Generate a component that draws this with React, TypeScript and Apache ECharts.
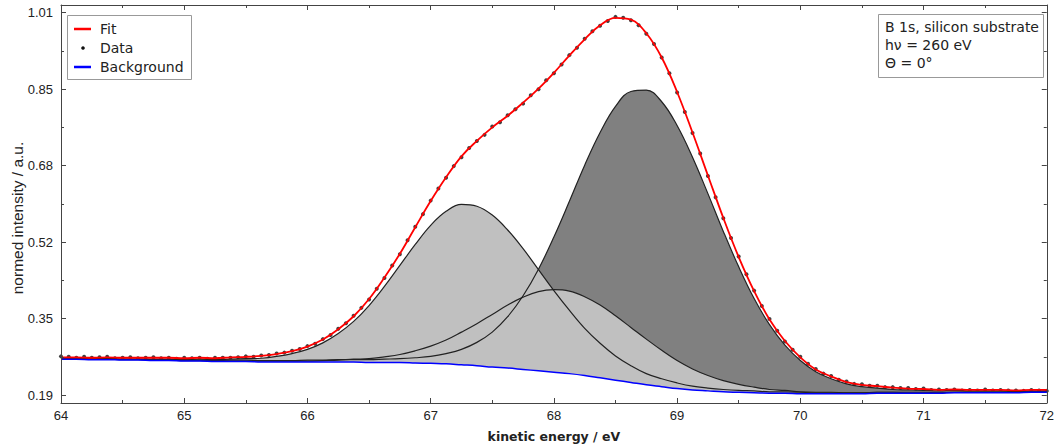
import React, { useEffect, useRef } from 'react';
import * as echarts from 'echarts';

// energy grid of the fitted curves: 64 .. 72 eV, step 0.125 eV
const CURVE_START = 64;
const CURVE_STEP = 0.125;
// energy grid of the measured points: 64 .. 72 eV, step 0.0625 eV
const DATA_START = 64;
const DATA_STEP = 0.0625;

const background = [
  0.267, 0.267, 0.266, 0.266, 0.265, 0.265, 0.264, 0.264, 0.263, 0.263,
  0.262, 0.262, 0.262, 0.261, 0.261, 0.261, 0.261, 0.261, 0.261, 0.261,
  0.260, 0.260, 0.260, 0.259, 0.258, 0.257, 0.255, 0.253, 0.250, 0.248,
  0.245, 0.242, 0.239, 0.236, 0.232, 0.227, 0.222, 0.217, 0.212, 0.208,
  0.204, 0.201, 0.199, 0.197, 0.196, 0.195, 0.194, 0.194, 0.193, 0.193,
  0.193, 0.193, 0.193, 0.194, 0.194, 0.194, 0.194, 0.194, 0.195, 0.195,
  0.195, 0.195, 0.195, 0.196, 0.196,
];

const compBO = [
  0.002, 0.002, 0.002, 0.002, 0.002, 0.002, 0.003, 0.003, 0.003, 0.004,
  0.004, 0.005, 0.006, 0.008, 0.012, 0.018, 0.027, 0.041, 0.061, 0.087,
  0.122, 0.163, 0.208, 0.254, 0.296, 0.327, 0.344, 0.342, 0.326, 0.296,
  0.259, 0.217, 0.175, 0.136, 0.101, 0.074, 0.052, 0.036, 0.024, 0.017,
  0.012, 0.008, 0.006, 0.005, 0.004, 0.004, 0.003, 0.003, 0.003, 0.002,
  0.002, 0.002, 0.002, 0.002, 0.002, 0.002, 0.002, 0.001, 0.001, 0.001,
  0.001, 0.001, 0.001, 0.001, 0.001,
];

const compBC = [
  0.001, 0.001, 0.001, 0.001, 0.001, 0.001, 0.001, 0.001, 0.001, 0.001,
  0.001, 0.001, 0.001, 0.002, 0.002, 0.002, 0.002, 0.003, 0.004, 0.006,
  0.008, 0.012, 0.017, 0.026, 0.037, 0.051, 0.070, 0.090, 0.113, 0.135,
  0.155, 0.170, 0.177, 0.177, 0.169, 0.156, 0.138, 0.118, 0.098, 0.078,
  0.060, 0.045, 0.033, 0.024, 0.017, 0.012, 0.008, 0.006, 0.004, 0.003,
  0.003, 0.002, 0.002, 0.002, 0.002, 0.001, 0.001, 0.001, 0.001, 0.001,
  0.001, 0.001, 0.001, 0.001, 0.001,
];

const compBB = [
  0.001, 0.001, 0.001, 0.002, 0.002, 0.002, 0.002, 0.002, 0.002, 0.002,
  0.002, 0.003, 0.003, 0.003, 0.003, 0.003, 0.004, 0.004, 0.005, 0.005,
  0.006, 0.007, 0.008, 0.011, 0.015, 0.022, 0.033, 0.050, 0.075, 0.110,
  0.158, 0.218, 0.290, 0.369, 0.451, 0.526, 0.587, 0.624, 0.632, 0.611,
  0.564, 0.499, 0.423, 0.344, 0.269, 0.202, 0.147, 0.103, 0.071, 0.047,
  0.032, 0.021, 0.015, 0.011, 0.008, 0.007, 0.006, 0.005, 0.005, 0.004,
  0.004, 0.004, 0.003, 0.003, 0.003,
];

const measured = [
  0.273, 0.272, 0.270, 0.272, 0.270, 0.271, 0.272, 0.269, 0.270, 0.271, 0.269, 0.270, 0.271, 0.269, 0.270, 0.268,
  0.270, 0.269, 0.270, 0.268, 0.270, 0.270, 0.270, 0.271, 0.273, 0.272, 0.275, 0.276, 0.279, 0.281, 0.285, 0.289,
  0.295, 0.300, 0.310, 0.319, 0.332, 0.344, 0.360, 0.377, 0.395, 0.418, 0.441, 0.468, 0.492, 0.522, 0.551, 0.578,
  0.607, 0.633, 0.656, 0.681, 0.700, 0.720, 0.735, 0.748, 0.766, 0.775, 0.790, 0.803, 0.815, 0.833, 0.846, 0.865,
  0.880, 0.899, 0.919, 0.935, 0.954, 0.970, 0.982, 0.992, 1.001, 0.999, 0.994, 0.983, 0.965, 0.943, 0.914, 0.880,
  0.839, 0.797, 0.752, 0.708, 0.660, 0.614, 0.569, 0.527, 0.487, 0.449, 0.414, 0.381, 0.353, 0.328, 0.305, 0.287,
  0.272, 0.257, 0.246, 0.236, 0.231, 0.223, 0.219, 0.214, 0.213, 0.210, 0.210, 0.207, 0.207, 0.205, 0.205, 0.203,
  0.204, 0.201, 0.202, 0.201, 0.202, 0.200, 0.201, 0.200, 0.202, 0.200, 0.201, 0.200, 0.200, 0.199, 0.201, 0.200,
  0.199,
];

const yMajorTicks = [0.19, 0.354, 0.518, 0.682, 0.846, 1.01];
const yMinorTicks = [0.272, 0.436, 0.6, 0.764, 0.928];
const Y_MIN = 0.173;
const Y_MAX = 1.0265;

const peakLabels = [
  { name: 'B-O', energy: 67.27, value: 0.445 },
  { name: 'B-C', energy: 68.10, value: 0.324 },
  { name: 'B-B', energy: 68.74, value: 0.556 },
];

const legendItems = ['Fit', 'Data', 'Background'];
const infoLines = ['B 1s, silicon substrate', 'hν = 260 eV', 'Θ = 0°'];

const AXIS_COLOR = '#444';
const TEXT_COLOR = '#222';

export default function App() {
  const ref = useRef<HTMLDivElement>(null);

  useEffect(() => {
    if (!ref.current) return;
    const chart = echarts.init(ref.current, null, { renderer: 'svg' });

    const energies = background.map((_, i) => CURVE_START + i * CURVE_STEP);
    const pts = (vals: number[]) => energies.map((e, i) => [e, vals[i]]);
    const upBO = background.map((b, i) => b + compBO[i]);
    const upBC = background.map((b, i) => b + compBC[i]);
    const upBB = background.map((b, i) => b + compBB[i]);
    const fit = background.map((b, i) => b + compBO[i] + compBC[i] + compBB[i]);
    const dataPts = measured.map((v, i) => [DATA_START + i * DATA_STEP, v]);

    const SMOOTH = 0.4;
    const areaSeries = (name: string, vals: number[], color: string) => ({
      name,
      type: 'line',
      data: pts(vals),
      smooth: SMOOTH,
      symbol: 'none',
      silent: true,
      lineStyle: { width: 0, opacity: 0 },
      areaStyle: { color, opacity: 1, origin: 'start' },
    });
    const lineSeries = (name: string, vals: number[], color: string, width: number) => ({
      name,
      type: 'line',
      data: pts(vals),
      smooth: SMOOTH,
      symbol: 'none',
      silent: true,
      lineStyle: { color, width },
    });

    const xCommon = {
      type: 'value',
      min: 64,
      max: 72,
      interval: 1,
      z: 10,
      splitLine: { show: false },
      axisLine: { show: true, onZero: false, lineStyle: { color: AXIS_COLOR, width: 1 } },
      axisTick: { show: true, inside: true, length: 5, lineStyle: { color: AXIS_COLOR } },
      minorTick: { show: true, splitNumber: 2, length: 3, lineStyle: { color: AXIS_COLOR } },
    };
    const yCommon = {
      type: 'value',
      min: Y_MIN,
      max: Y_MAX,
      z: 10,
      splitLine: { show: false },
    };

    const option: any = {
      animation: false,
      backgroundColor: '#ffffff',
      grid: { left: 61, right: 7, top: 5, bottom: 44, containLabel: false },
      xAxis: [
        {
          ...xCommon,
          position: 'bottom',
          axisLabel: { margin: 6, fontSize: 13, fontFamily: 'Liberation Sans', color: TEXT_COLOR },
          name: 'kinetic energy / eV',
          nameLocation: 'middle',
          nameGap: 27,
          nameTextStyle: { fontSize: 12.5, fontWeight: 'bold', fontFamily: 'DejaVu Sans', color: TEXT_COLOR },
        },
        { ...xCommon, position: 'top', axisLabel: { show: false } },
      ],
      yAxis: [
        {
          ...yCommon,
          position: 'left',
          axisLine: { show: true, onZero: false, lineStyle: { color: AXIS_COLOR, width: 1 } },
          axisTick: { show: true, inside: true, length: 5, customValues: yMajorTicks, lineStyle: { color: AXIS_COLOR } },
          axisLabel: {
            customValues: yMajorTicks,
            formatter: (v: number) => v.toFixed(2),
            margin: 8,
            fontSize: 13,
            fontFamily: 'Liberation Sans',
            color: TEXT_COLOR,
          },
        },
        {
          ...yCommon,
          position: 'left',
          axisLine: { show: false },
          axisTick: { show: true, inside: true, length: 3, customValues: yMinorTicks, lineStyle: { color: AXIS_COLOR } },
          axisLabel: { show: false },
        },
        {
          ...yCommon,
          position: 'right',
          axisLine: { show: true, onZero: false, lineStyle: { color: AXIS_COLOR, width: 1 } },
          axisTick: { show: true, inside: true, length: 5, customValues: yMajorTicks, lineStyle: { color: AXIS_COLOR } },
          axisLabel: { show: false },
        },
        {
          ...yCommon,
          position: 'right',
          axisLine: { show: false },
          axisTick: { show: true, inside: true, length: 3, customValues: yMinorTicks, lineStyle: { color: AXIS_COLOR } },
          axisLabel: { show: false },
        },
      ],
      series: [
        areaSeries('B-B area', upBB, '#808080'),
        areaSeries('B-O area', upBO, '#c0c0c0'),
        areaSeries('B-C area', upBC, '#c0c0c0'),
        areaSeries('under background', background, '#ffffff'),
        lineSeries('B-O', upBO, '#222222', 1.2),
        lineSeries('B-C', upBC, '#222222', 1.2),
        lineSeries('B-B', upBB, '#222222', 1.2),
        lineSeries('Background', background, '#0000ff', 1.5),
        lineSeries('Fit', fit, '#ff0000', 1.8),
        {
          name: 'Data',
          type: 'scatter',
          data: dataPts,
          symbol: 'circle',
          symbolSize: 4,
          silent: true,
          itemStyle: { color: '#111111' },
        },
        {
          name: 'labels',
          type: 'scatter',
          data: peakLabels.map((p) => ({ name: p.name, value: [p.energy, p.value] })),
          symbolSize: 0,
          silent: true,
          label: {
            show: true,
            position: 'inside',
            formatter: (p: any) => p.name,
            fontSize: 14,
            fontFamily: 'DejaVu Sans',
            color: TEXT_COLOR,
          },
        },
      ],
      graphic: [
        // legend box (top left)
        { type: 'rect', z: 100, shape: { x: 67.5, y: 15.5, width: 124, height: 64 }, style: { fill: '#fff', stroke: '#999', lineWidth: 1 } },
        { type: 'line', z: 101, shape: { x1: 74, y1: 29, x2: 91, y2: 29 }, style: { stroke: '#ff0000', lineWidth: 2.5 } },
        { type: 'circle', z: 101, shape: { cx: 83, cy: 48, r: 1.8 }, style: { fill: '#111' } },
        { type: 'line', z: 101, shape: { x1: 74, y1: 67, x2: 91, y2: 67 }, style: { stroke: '#0000ff', lineWidth: 2.5 } },
        ...legendItems.map((t, i) => ({
          type: 'text', z: 101, x: 100, y: 29 + i * 19,
          style: { text: t, fontSize: 14, fontFamily: 'DejaVu Sans', fill: TEXT_COLOR, align: 'left', verticalAlign: 'middle' },
        })),
        // info box (top right)
        { type: 'rect', z: 100, shape: { x: 878.5, y: 14.5, width: 165, height: 63 }, style: { fill: '#fff', stroke: '#999', lineWidth: 1 } },
        ...infoLines.map((t, i) => ({
          type: 'text', z: 101, x: 885, y: 27 + i * 18,
          style: { text: t, fontSize: 14, fontFamily: 'DejaVu Sans', fill: TEXT_COLOR, align: 'left', verticalAlign: 'middle' },
        })),
        // y axis title
        {
          type: 'text', z: 101, x: 17, y: 218, rotation: Math.PI / 2,
          style: { text: 'normed intensity / a.u.', fontSize: 15.5, fontFamily: 'Liberation Sans', fill: TEXT_COLOR, align: 'center', verticalAlign: 'middle' },
        },
      ],
    };

    chart.setOption(option);
    return () => chart.dispose();
  }, []);

  return <div ref={ref} style={{ position: 'absolute', left: 0, top: 0, width: 1057, height: 448 }} />;
}
